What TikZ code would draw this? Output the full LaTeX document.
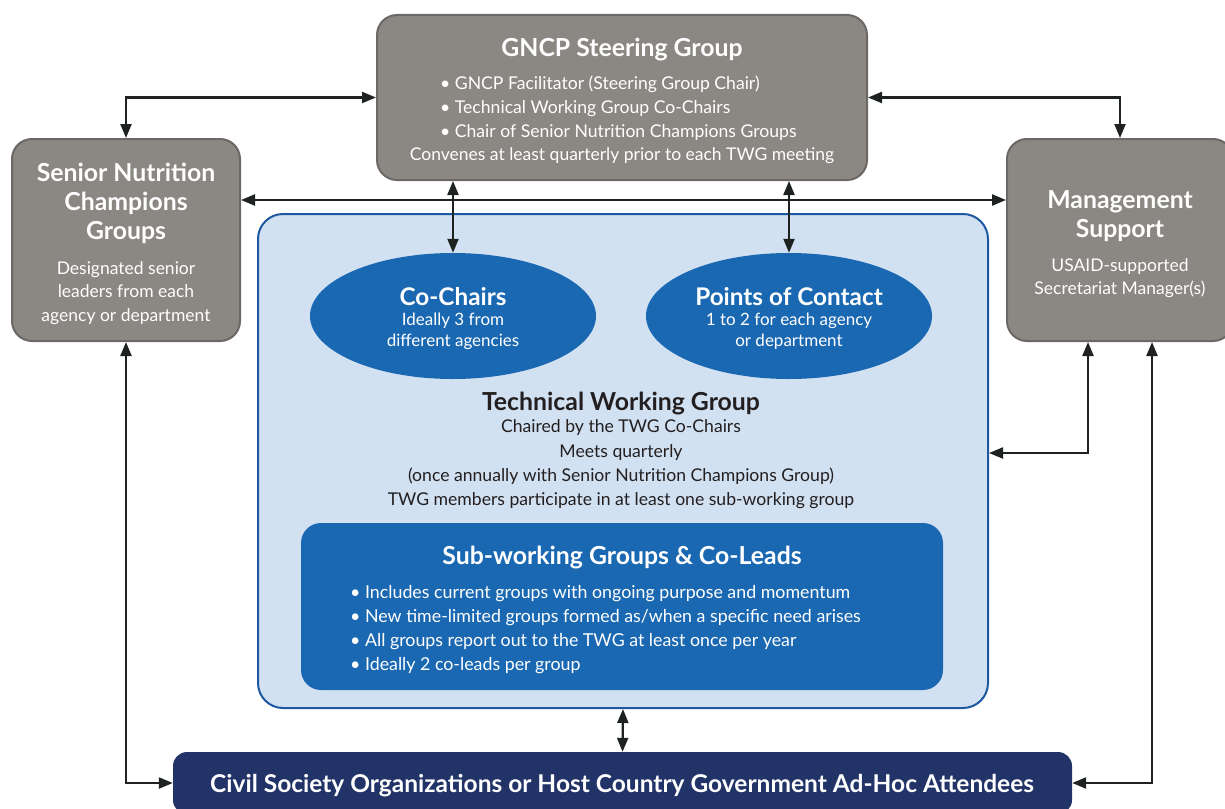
\documentclass[tikz,border=0pt]{standalone}
\usepackage{fontspec}
\setmainfont{Lato}
\usepackage{tikz}
\usetikzlibrary{arrows.meta,positioning,shapes.geometric}
\definecolor{steerGray}{RGB}{139,135,131}
\definecolor{steerGrayDark}{RGB}{108,104,101}
\definecolor{twgLight}{RGB}{210,225,242}
\definecolor{twgEdge}{RGB}{30,88,160}
\definecolor{twgBlue}{RGB}{26,104,178}
\definecolor{civilNavy}{RGB}{34,51,104}
\definecolor{linkDark}{RGB}{30,35,31}
\definecolor{inkDark}{RGB}{35,31,32}
\newcommand\headsize{\fontsize{24.8}{29}\selectfont}
\newcommand\bodysize{\fontsize{17.5}{23.5}\selectfont}
\newcommand\ovalsize{\fontsize{17}{21}\selectfont}

\begin{document}
\begin{tikzpicture}[x=1pt,y=-1pt,
  graybox/.style={draw=steerGrayDark, fill=steerGray, line width=2pt, rounded corners=20pt, inner sep=0pt},
  twgbox/.style={draw=twgEdge, fill=twgLight, line width=2pt, rounded corners=25pt, inner sep=0pt},
  subbox/.style={fill=twgBlue, rounded corners=20pt, inner sep=0pt},
  oval/.style={ellipse, fill=twgBlue, inner sep=0pt, minimum width=286pt, minimum height=126pt},
  civbox/.style={fill=civilNavy, rounded corners=14pt, inner sep=0pt},
  head/.style={text=white, font=\bfseries\headsize, align=center, inner sep=0pt, yshift=-2.5pt},
  body/.style={text=white, font=\bodysize, align=center, inner sep=0pt, yshift=-2pt},
  small/.style={text=white, font=\ovalsize, align=center, inner sep=0pt, yshift=-1.5pt},
  link/.style={draw=linkDark, line width=2.2pt, {Triangle[length=14pt,width=11pt]}-{Triangle[length=14pt,width=11pt]}}]
\useasboundingbox (0,0) rectangle (1225,808);

% boxes
\node[graybox, minimum width=490pt, minimum height=165pt] (steer) at (622,97.5) {};
\node[graybox, minimum width=228pt, minimum height=202pt] (senior) at (126,240) {};
\node[graybox, minimum width=226pt, minimum height=202pt] (mgmt) at (1120,240) {};
\node[twgbox, minimum width=730pt, minimum height=494pt] (twg) at (623,461) {};
\node[oval] (cochair) at (453,316) {};
\node[oval] (contact) at (789,316) {};
\node[subbox, minimum width=642pt, minimum height=167pt] (sub) at (622,606.5) {};
\node[civbox, minimum width=899pt, minimum height=62pt] (civil) at (622.5,783) {};

% steering group
\node[head] (steerT) at (622,47) {GNCP Steering Group};
\node[body, align=left, anchor=west, font=\fontsize{17.6}{24}\selectfont] (steerL) at (440,106)
  {\textbullet\ GNCP Facilitator (Steering Group Chair)\\
   \textbullet\ Technical Working Group Co-Chairs\\
   \textbullet\ Chair of Senior Nutrition Champions Groups};
\node[body] (steerC) at (622,154) {Convenes at least quarterly prior to each TWG meeting};

% side boxes
\node[head] (seniorT) at (126,201) {Senior Nutrition\\Champions\\Groups};
\node[body] (seniorB) at (126,291) {Designated senior\\leaders from each\\agency or department};
\node[head] (mgmtT) at (1120,213.5) {Management\\Support};
\node[body] (mgmtB) at (1120,276) {USAID-supported\\Secretariat Manager(s)};

% ovals
\node[head, font=\bfseries\fontsize{24.3}{28}\selectfont] (cochairT) at (453,294) {Co-Chairs};
\node[small] (cochairB) at (453,330) {Ideally 3 from\\different agencies};
\node[head, font=\bfseries\fontsize{24.3}{28}\selectfont] (contactT) at (789,294) {Points of Contact};
\node[small] (contactB) at (789,330) {1 to 2 for each agency\\or department};

% technical working group
\node[head, text=inkDark] (twgT) at (621,401) {Technical Working Group};
\node[body, text=inkDark, font=\fontsize{17.6}{24.3}\selectfont] (twgB) at (621,462.5)
  {Chaired by the TWG Co-Chairs\\Meets quarterly\\(once annually with Senior Nutrition Champions Group)\\TWG members participate in at least one sub-working group};

% sub-working groups
\node[head] (subT) at (622,555) {Sub-working Groups \& Co-Leads};
\node[body, align=left, anchor=west, font=\fontsize{17.8}{24}\selectfont] (subL) at (350,628)
  {\textbullet\ Includes current groups with ongoing purpose and momentum\\
   \textbullet\ New time-limited groups formed as/when a specific need arises\\
   \textbullet\ All groups report out to the TWG at least once per year\\
   \textbullet\ Ideally 2 co-leads per group};

% attendees
\node[head, font=\bfseries\fontsize{24.5}{29}\selectfont] (civilT) at (622,783) {Civil Society Organizations or Host Country Government Ad-Hoc Attendees};

% links
\coordinate (hlink) at (0,200);
\coordinate (twgTap) at (1088,453);
\coordinate (civTap) at (1152,783);
\draw[link] (steer.west) -| (senior.north);
\draw[link] (steer.east) -| (mgmt.north);
\draw[link] (senior.east |- hlink) -- (mgmt.west |- hlink);
\draw[link] (steer.south -| cochair.north) -- (cochair.north);
\draw[link] (steer.south -| contact.north) -- (contact.north);
\draw[link] (senior.south) |- (civil.west);
\draw[link] (mgmt.south -| twgTap) |- (twg.east |- twgTap);
\draw[link] (mgmt.south -| civTap) |- (civil.east);
\draw[link] (twg.south) -- (civil.north);
\end{tikzpicture}
\end{document}
